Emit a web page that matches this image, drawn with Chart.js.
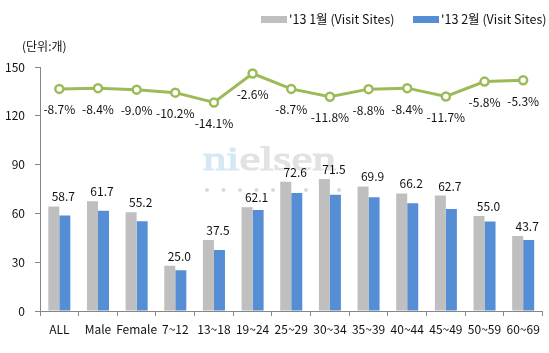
<!DOCTYPE html>
<html>
<head>
<meta charset="utf-8">
<script src="https://cdn.jsdelivr.net/npm/chart.js@4"></script>
<style>
  body { margin: 0; background: #fff; }
  #wrap { width: 549px; height: 353px; }
</style>
</head>
<body>
<div id="wrap"><canvas id="visitChart" width="549" height="353"></canvas></div>
<script>
// data
const categories = ['ALL', 'Male', 'Female', '7~12', '13~18', '19~24', '25~29', '30~34', '35~39', '40~44', '45~49', '50~59', '60~69'];
const janVisits = [64.3, 67.4, 60.7, 27.8, 43.7, 63.8, 79.5, 81.1, 76.6, 72.3, 71.0, 58.4, 46.1];
const febVisits = [58.7, 61.7, 55.2, 25.0, 37.5, 62.1, 72.6, 71.5, 69.9, 66.2, 62.7, 55.0, 43.7];
const changePct = [-8.7, -8.4, -9.0, -10.2, -14.1, -2.6, -8.7, -11.8, -8.8, -8.4, -11.7, -5.8, -5.3];
const yTicks = [0, 30, 60, 90, 120, 150];
const seriesNames = ["'13 1월 (Visit Sites)", "'13 2월 (Visit Sites)"];

const FONT = '"Noto Sans CJK KR", "Noto Sans", sans-serif';
const GRAY = '#BFBFBF';
const BLUE = '#558ED5';
const GREEN = '#9BBB59';
const AXIS = '#868686';

// faint "nielsen" watermark behind the bars
const watermark = {
    id: 'watermark',
    beforeDatasetsDraw(chart) {
        const ctx = chart.ctx;
        ctx.save();
        ctx.translate(203, 170);
        ctx.scale(1.38, 1);
        ctx.font = '34px "Liberation Serif", serif';
        ctx.textBaseline = 'alphabetic';
        ctx.lineWidth = 1.2;
        ctx.fillStyle = ctx.strokeStyle = '#D4E9F2';
        ctx.fillText('ni', 0, 0);
        ctx.strokeText('ni', 0, 0);
        const w = ctx.measureText('ni').width;
        ctx.fillStyle = ctx.strokeStyle = '#E2E2E2';
        ctx.fillText('elsen', w, 0);
        ctx.strokeText('elsen', w, 0);
        ctx.restore();
        ctx.save();
        ctx.fillStyle = '#DADADA';
        for (let i = 0; i < 9; i++) {
            ctx.beginPath();
            ctx.arc(207 + i * 16.5, 190, 2, 0, Math.PI * 2);
            ctx.fill();
        }
        ctx.restore();
    }
};

// value labels, percent labels, legend and unit title
const annotations = {
    id: 'annotations',
    afterDatasetsDraw(chart) {
        const ctx = chart.ctx;
        const janMeta = chart.getDatasetMeta(0);
        const lineMeta = chart.getDatasetMeta(2);
        const xScale = chart.scales.x;
        ctx.save();
        ctx.font = '12px ' + FONT;
        ctx.fillStyle = '#111';
        ctx.textAlign = 'center';

        categories.forEach((c, i) => {
            const cx = xScale.getPixelForValue(i);
            const grayTop = janMeta.data[i].y;
            ctx.textBaseline = 'alphabetic';
            ctx.fillText(febVisits[i].toFixed(1), cx + 4, grayTop - 5);

            const pt = lineMeta.data[i];
            ctx.textBaseline = 'middle';
            ctx.fillText(changePct[i].toFixed(1) + '%', cx, pt.y + 21);
        });

        // unit title
        ctx.textAlign = 'left';
        ctx.textBaseline = 'middle';
        ctx.fillText('(단위:개)', 22, 46);

        // legend
        ctx.font = '12.5px ' + FONT;
        const legendItems = [
            { x: 261, color: GRAY, text: seriesNames[0] },
            { x: 413, color: BLUE, text: seriesNames[1] }
        ];
        legendItems.forEach(item => {
            ctx.fillStyle = item.color;
            ctx.fillRect(item.x, 16, 26, 7);
            ctx.fillStyle = '#111';
            ctx.fillText(item.text, item.x + 28, 19.5);
        });
        ctx.restore();
    }
};

const ctx = document.getElementById('visitChart').getContext('2d');

new Chart(ctx, {
    type: 'bar',
    data: {
        labels: categories,
        datasets: [
            {
                label: seriesNames[0],
                data: janVisits,
                backgroundColor: GRAY,
                borderWidth: 0,
                categoryPercentage: 0.57,
                barPercentage: 1.0,
                order: 2
            },
            {
                label: seriesNames[1],
                data: febVisits,
                backgroundColor: BLUE,
                borderWidth: 0,
                categoryPercentage: 0.57,
                barPercentage: 1.0,
                order: 2
            },
            {
                type: 'line',
                label: 'change',
                data: changePct,
                yAxisID: 'y1',
                borderColor: GREEN,
                borderWidth: 3,
                tension: 0,
                pointRadius: 4,
                pointBorderWidth: 2.5,
                pointBorderColor: GREEN,
                pointBackgroundColor: '#fff',
                order: 0
            }
        ]
    },
    options: {
        responsive: false,
        animation: false,
        layout: {
            padding: { top: 67, right: 6, left: 0, bottom: 0 }
        },
        scales: {
            x: {
                offset: true,
                grid: {
                    offset: true,
                    drawOnChartArea: false,
                    tickLength: 5,
                    color: AXIS
                },
                border: { color: AXIS },
                ticks: {
                    color: '#111',
                    font: { family: FONT, size: 12 },
                    maxRotation: 0,
                    autoSkip: false,
                    padding: 6
                },
                afterFit(scale) { scale.height = 42; }
            },
            y: {
                min: 0,
                max: 150,
                afterBuildTicks(scale) { scale.ticks = yTicks.map(v => ({ value: v })); },
                grid: {
                    drawOnChartArea: false,
                    tickLength: 5,
                    color: AXIS
                },
                border: { color: AXIS },
                ticks: {
                    color: '#111',
                    font: { family: FONT, size: 12 },
                    padding: 10
                },
                afterFit(scale) { scale.width = 40; }
            },
            y1: {
                display: false,
                min: -97,
                max: 0
            }
        },
        plugins: {
            legend: { display: false },
            tooltip: { enabled: false }
        }
    },
    plugins: [watermark, annotations]
});
</script>
</body>
</html>
